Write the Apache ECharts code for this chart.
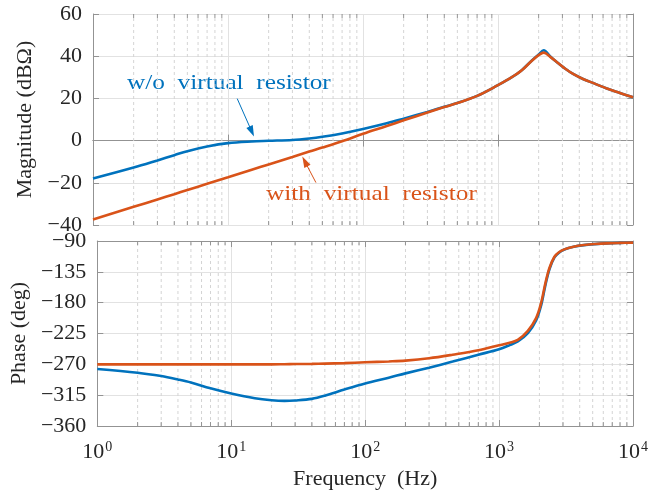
<!DOCTYPE html>
<html>
<head>
<meta charset="utf-8">
<script src="https://cdn.jsdelivr.net/npm/echarts@6/dist/echarts.min.js"></script>
<style>
  html, body { margin: 0; padding: 0; background: #fff; }
  #chart { width: 662px; height: 491px; }
</style>
</head>
<body>
<div id="chart"></div>
<script>
// Impedance magnitude, frequency points (Hz) and values (dBΩ)
const freqMag = [1, 2, 3, 4, 5, 7, 10, 15, 20, 30, 40, 50, 70, 100, 150, 200, 300, 400, 500, 700,
  1000, 1250, 1500, 1790, 2000, 2180, 2440, 2750, 3070, 3600, 4300, 5200, 6400, 8000, 10000];
const magWithout = [-18.0, -12.8, -9.4, -6.9, -5.0, -2.8, -1.2, -0.4, -0.1, 0.3, 1.0, 1.8, 3.4, 5.5, 8.2, 10.4, 13.6, 16.0, 17.8, 21.2,
  26.3, 29.8, 33.4, 38.1, 40.8, 42.8, 39.9, 37.0, 34.6, 31.6, 29.1, 27.0, 24.7, 22.6, 20.5];
const magWith = [-37.4, -31.4, -27.9, -25.4, -23.4, -20.5, -17.4, -13.8, -11.3, -7.8, -5.2, -3.3, -0.3, 3.2, 6.9, 9.6, 13.3, 15.9, 17.8, 21.2,
  26.3, 29.8, 33.3, 38.0, 40.5, 41.7, 39.7, 37.0, 34.6, 31.6, 29.1, 27.0, 24.7, 22.6, 20.5];

// Impedance phase, frequency points (Hz) and values (deg)
const freqPhase = [1, 2, 3, 4, 5, 7, 10, 15, 20, 25, 30, 40, 50, 70, 100, 150, 200, 300, 450, 700,
  1000, 1200, 1380, 1640, 1890, 2060, 2220, 2380, 2590, 2800, 3070, 3600, 4300, 5200, 6400, 8000, 10000];
const phaseWithout = [-276.8, -282.2, -287.1, -292.0, -296.4, -305.0, -312.6, -319.5, -322.4, -323.3, -322.7, -320.4, -315.8, -306.8, -297.9, -289.5, -283.2, -274.9, -266.0, -256.0,
  -248.0, -242.0, -236.7, -224.5, -206.0, -184.0, -154.0, -131.0, -114.0, -107.0, -102.5, -98.5, -96.0, -94.5, -93.4, -92.8, -92.4];
const phaseWith = [-270.0, -270.0, -270.0, -270.0, -270.0, -270.0, -270.0, -270.0, -270.0, -269.8, -269.6, -269.4, -269.0, -268.2, -267.0, -265.8, -264.6, -261.2, -256.0, -249.5,
  -242.2, -238.5, -234.3, -221.1, -202.5, -180.5, -151.1, -129.1, -113.0, -106.5, -102.2, -98.3, -95.9, -94.4, -93.4, -92.8, -92.4];

// Axis ranges and tick steps
const freqRange = [1, 10000];
const magRange = [-40, 60];
const magStep = 20;
const phaseRange = [-360, -90];
const phaseStep = 45;

// Minor frequency gridlines (2..9 within each decade)
const minorFreqs = [];
for (let d = 1; d < 10000; d *= 10) {
  for (let k = 2; k <= 9; k++) minorFreqs.push(k * d);
}

const FONT = "'Liberation Serif', 'Times New Roman', Times, serif";
const TEXT = '#262626';
const FRAME = '#939393';
const GRID = '#e2e2e2';
const MINOR = '#d4d4d4';
const BLUE = '#0072BD';
const ORANGE = '#D95319';

const chart = echarts.init(document.getElementById('chart'), null, { renderer: 'canvas' });

function pair(a, b) { return a.map((v, i) => [v, b[i]]); }
function yFmt(v) { return v < 0 ? '\u2212' + Math.abs(v) : String(v); }

function xAxisDef(gridIndex, position, showLabels) {
  return {
    type: 'log', logBase: 10, gridIndex, position,
    min: freqRange[0], max: freqRange[1],
    axisLine: { show: true, lineStyle: { color: FRAME, width: 1 } },
    axisTick: { show: true, inside: true, length: 6, lineStyle: { color: FRAME } },
    splitLine: { show: position === 'bottom', lineStyle: { color: GRID, width: 1 } },
    minorTick: { show: false }, minorSplitLine: { show: false },
    axisLabel: showLabels ? {
      show: true, margin: 14,
      formatter: v => '{b|10}{s|' + Math.round(Math.log10(v)) + '}',
      rich: {
        b: { fontFamily: FONT, fontSize: 22, color: TEXT, lineHeight: 24 },
        s: { fontFamily: FONT, fontSize: 14, color: TEXT, verticalAlign: 'top', lineHeight: 24, padding: [0, 0, 5, 1] }
      }
    } : { show: false },
    name: showLabels ? 'Frequency  (Hz)' : '',
    nameLocation: 'middle', nameGap: 42,
    nameTextStyle: { fontFamily: FONT, fontSize: 22, color: TEXT }
  };
}

function yAxisDef(gridIndex, position, range, step, name) {
  const left = position === 'left';
  return {
    type: 'value', gridIndex, position,
    min: range[0], max: range[1], interval: step,
    axisLine: { show: true, lineStyle: { color: FRAME, width: 1 } },
    axisTick: { show: true, inside: true, length: 6, lineStyle: { color: FRAME } },
    splitLine: { show: left, lineStyle: { color: GRID, width: 1 } },
    axisLabel: left ? { show: true, margin: 11, formatter: yFmt, fontFamily: FONT, fontSize: 22, color: TEXT } : { show: false },
    name: left ? name : '',
    nameLocation: 'middle', nameGap: 53, nameRotate: 90,
    nameTextStyle: { fontFamily: FONT, fontSize: 22, color: TEXT }
  };
}

// Dashed minor gridlines plus short inward ticks on the top and bottom edges
function minorGridSeries(xi, yi, range) {
  return {
    type: 'custom', xAxisIndex: xi, yAxisIndex: yi, z: 1, silent: true,
    data: minorFreqs.map(f => [f, range[0]]),
    encode: { x: 0, y: 1 },
    renderItem: (params, api) => {
      const f = api.value(0);
      const bot = api.coord([f, range[0]]);
      const top = api.coord([f, range[1]]);
      return {
        type: 'group',
        children: [
          { type: 'line', shape: { x1: bot[0], y1: bot[1], x2: top[0], y2: top[1] },
            style: { stroke: MINOR, lineWidth: 1, lineDash: [3, 3] } },
          { type: 'line', shape: { x1: bot[0], y1: bot[1], x2: bot[0], y2: bot[1] - 4 },
            style: { stroke: FRAME, lineWidth: 1 } },
          { type: 'line', shape: { x1: top[0], y1: top[1], x2: top[0], y2: top[1] + 4 },
            style: { stroke: FRAME, lineWidth: 1 } }
        ]
      };
    }
  };
}

function curve(xi, yi, data, color, z) {
  return {
    type: 'line', xAxisIndex: xi, yAxisIndex: yi, data, z,
    showSymbol: false, symbol: 'none', smooth: 0.35,
    lineStyle: { color, width: 2.6 }, silent: true, animation: false
  };
}

function arrow(color, from, to) {
  return {
    silent: true, animation: false,
    symbol: ['none', 'triangle'], symbolSize: [7, 11],
    label: { show: false },
    lineStyle: { color, width: 1, type: 'solid' },
    data: [[{ coord: from }, { coord: to }]]
  };
}

const blueMag = curve(0, 0, pair(freqMag, magWithout), BLUE, 3);
blueMag.markLine = arrow(BLUE, [11.7, 19.9], [15.0, 4.3]);
const orangeMag = curve(0, 0, pair(freqMag, magWith), ORANGE, 4);
orangeMag.markLine = arrow(ORANGE, [44.8, -19.9], [37.1, -9.9]);

chart.setOption({
  animation: false,
  backgroundColor: '#ffffff',
  grid: [
    { left: 93, top: 14, width: 540, height: 211 },
    { left: 93, top: 241, width: 540, height: 185 }
  ],
  xAxis: [
    xAxisDef(0, 'bottom', false),
    xAxisDef(0, 'top', false),
    xAxisDef(1, 'bottom', true),
    xAxisDef(1, 'top', false)
  ],
  yAxis: [
    yAxisDef(0, 'left', magRange, magStep, 'Magnitude (dB\u03A9)'),
    yAxisDef(0, 'right', magRange, magStep, ''),
    yAxisDef(1, 'left', phaseRange, phaseStep, 'Phase (deg)'),
    yAxisDef(1, 'right', phaseRange, phaseStep, '')
  ],
  series: [
    minorGridSeries(0, 0, magRange),
    minorGridSeries(2, 2, phaseRange),
    blueMag,
    orangeMag,
    curve(2, 2, pair(freqPhase, phaseWithout), BLUE, 3),
    curve(2, 2, pair(freqPhase, phaseWith), ORANGE, 4)
  ],
  graphic: [
    { type: 'text', x: 127, y: 83, scaleX: 1.15, scaleY: 1, silent: true,
      style: { text: 'w/o  virtual  resistor', x: 0, y: 0, align: 'left', verticalAlign: 'middle',
        font: "22px 'Liberation Serif', 'Times New Roman', serif", fill: BLUE } },
    { type: 'text', x: 266, y: 194, scaleX: 1.15, scaleY: 1, silent: true,
      style: { text: 'with  virtual  resistor', x: 0, y: 0, align: 'left', verticalAlign: 'middle',
        font: "22px 'Liberation Serif', 'Times New Roman', serif", fill: ORANGE } }
  ]
});
</script>
</body>
</html>
